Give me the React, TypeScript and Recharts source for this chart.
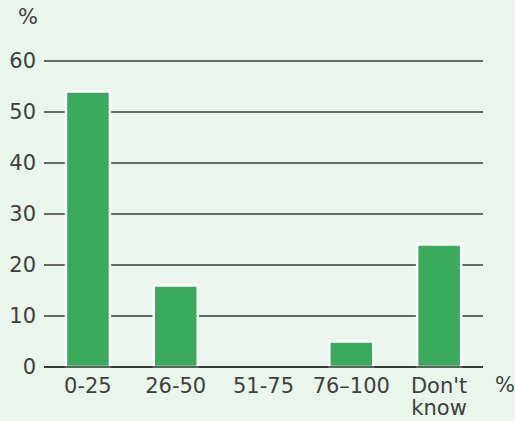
import React from "react";
import { BarChart, Bar, XAxis, YAxis, CartesianGrid } from "recharts";

const categories = ["0-25", "26-50", "51-75", "76–100", "Don't know"];
const shares = [54, 16, 0, 5, 24];
const yTicks = [0, 10, 20, 30, 40, 50, 60];

const data = categories.map((name, i) => ({ name, value: shares[i] }));

const FONT = "'DejaVu Sans', sans-serif";
const TEXT = "#404040";
const BG = "#eaf5ec";
const SIZE = 21;

// x tick labels wrap onto a second line where they hold a space
function CategoryTick(props: any) {
  const { x, y, payload } = props;
  const words = String(payload.value).split(" ");
  return (
    <g>
      {words.map((w: string, i: number) => (
        <text
          key={i}
          x={x}
          y={y + 18 + i * 22}
          textAnchor="middle"
          fill={TEXT}
          fontSize={SIZE}
          fontFamily={FONT}
        >
          {w}
        </text>
      ))}
    </g>
  );
}

export default function App() {
  return (
    <div
      style={{
        position: "absolute",
        left: 0,
        top: 0,
        width: 515,
        height: 421,
        background: BG,
        fontFamily: FONT,
      }}
    >
      <span style={{ position: "absolute", left: 18, top: 5, fontSize: SIZE, color: TEXT }}>%</span>
      <span style={{ position: "absolute", left: 495, top: 373, fontSize: SIZE, color: TEXT }}>%</span>
      <BarChart
        width={515}
        height={421}
        data={data}
        margin={{ top: 61, right: 32, bottom: 0, left: 0 }}
        barCategoryGap="25%"
      >
        <CartesianGrid vertical={false} stroke="#3a3a3a" strokeWidth={1.3} />
        <XAxis
          dataKey="name"
          height={54}
          axisLine={{ stroke: "#2a2a2a", strokeWidth: 1.5 }}
          tickLine={false}
          interval={0}
          tick={<CategoryTick />}
        />
        <YAxis
          width={44}
          domain={[0, 60]}
          ticks={yTicks}
          axisLine={false}
          tickLine={false}
          tick={{ fill: TEXT, fontSize: SIZE, fontFamily: FONT }}
        />
        <Bar dataKey="value" fill="#3aab5d" stroke="#ffffff" strokeWidth={2.5} isAnimationActive={false} />
      </BarChart>
    </div>
  );
}
